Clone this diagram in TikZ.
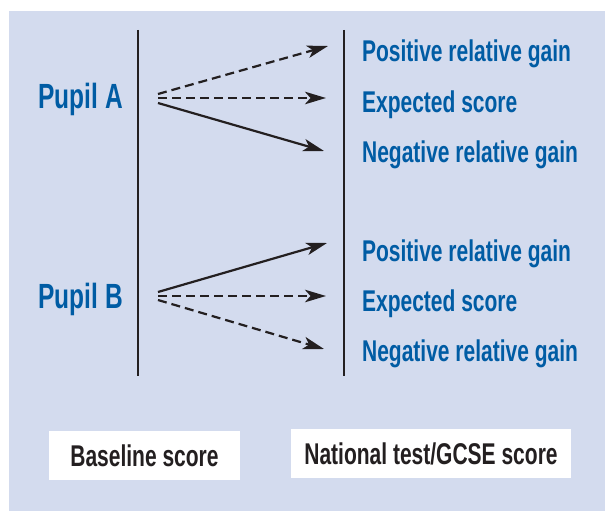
\documentclass[tikz,border=0pt]{standalone}
\usepackage{fontspec}
\setmainfont{Liberation Sans}[FakeStretch=0.70]
\usetikzlibrary{arrows.meta,positioning}
\definecolor{panel}{RGB}{211,219,238}
\definecolor{pupilblue}{RGB}{0,92,164}
\definecolor{ink}{RGB}{35,31,32}

\begin{document}
\begin{tikzpicture}[x=1pt, y=-1pt, ->, >={Stealth[length=21pt,width=12.5pt,inset=5.5pt]},
  line width=2.2pt, draw=ink,
  pupil/.style={inner sep=0pt, text=pupilblue, font=\bfseries\fontsize{35}{40}\selectfont},
  outcome/.style={inner sep=0pt, text=pupilblue, font=\bfseries\fontsize{30}{34}\selectfont, anchor=base west},
  scorebox/.style={fill=white, inner sep=0pt, text=ink, minimum height=49pt, font=\bfseries\fontsize{30}{34}\selectfont},
  guess/.style={dash pattern=on 9pt off 5pt}]
\useasboundingbox (0,0) rectangle (605,511);
\fill[panel] (9,11) rectangle (605,511);

% the two score axes
\coordinate (bt) at (138,30);
\coordinate (bb) at (138,376);
\coordinate (nt) at (344,30);
\coordinate (nb) at (344,376);

% pupils
\node[pupil, anchor=base east] (pa) at (124,108) {Pupil A};
\node[pupil, anchor=base east] (pb) at (124,308) {Pupil B};

% outcomes
\node[outcome] (pa1) at (361,62) {Positive relative gain};
\node[outcome] (pa2) at (361,112) {Expected score};
\node[outcome] (pa3) at (361,162) {Negative relative gain};

\node[outcome] (pb1) at (361,261) {Positive relative gain};
\node[outcome] (pb2) at (361,311) {Expected score};
\node[outcome] (pb3) at (361,361) {Negative relative gain};

\coordinate (sa1) at (158,94);
\coordinate (sa2) at (158,98);
\coordinate (sa3) at (158,103);
\coordinate (ta1) at (328,46);
\coordinate (ta2) at (326,98);
\coordinate (ta3) at (324,151);

\coordinate (sb1) at (158,292);
\coordinate (sb2) at (158,296);
\coordinate (sb3) at (158,300);
\coordinate (tb1) at (327,243);
\coordinate (tb2) at (326,296);
\coordinate (tb3) at (324,349);

% scores
\node[scorebox, minimum width=191pt] (base) at (144.5,455.5) {Baseline score};
\node[scorebox, minimum width=280pt] (gcse) at (431,453.5) {National test/GCSE score};

\path
  (bt) edge[-] (bb)
  (nt) edge[-] (nb)

  (sa1) edge[guess] (ta1)
  (sa2) edge[guess] (ta2)
  (sa3) edge (ta3)

  (sb1) edge (tb1)
  (sb2) edge[guess] (tb2)
  (sb3) edge[guess] (tb3)
;
\end{tikzpicture}
\end{document}
